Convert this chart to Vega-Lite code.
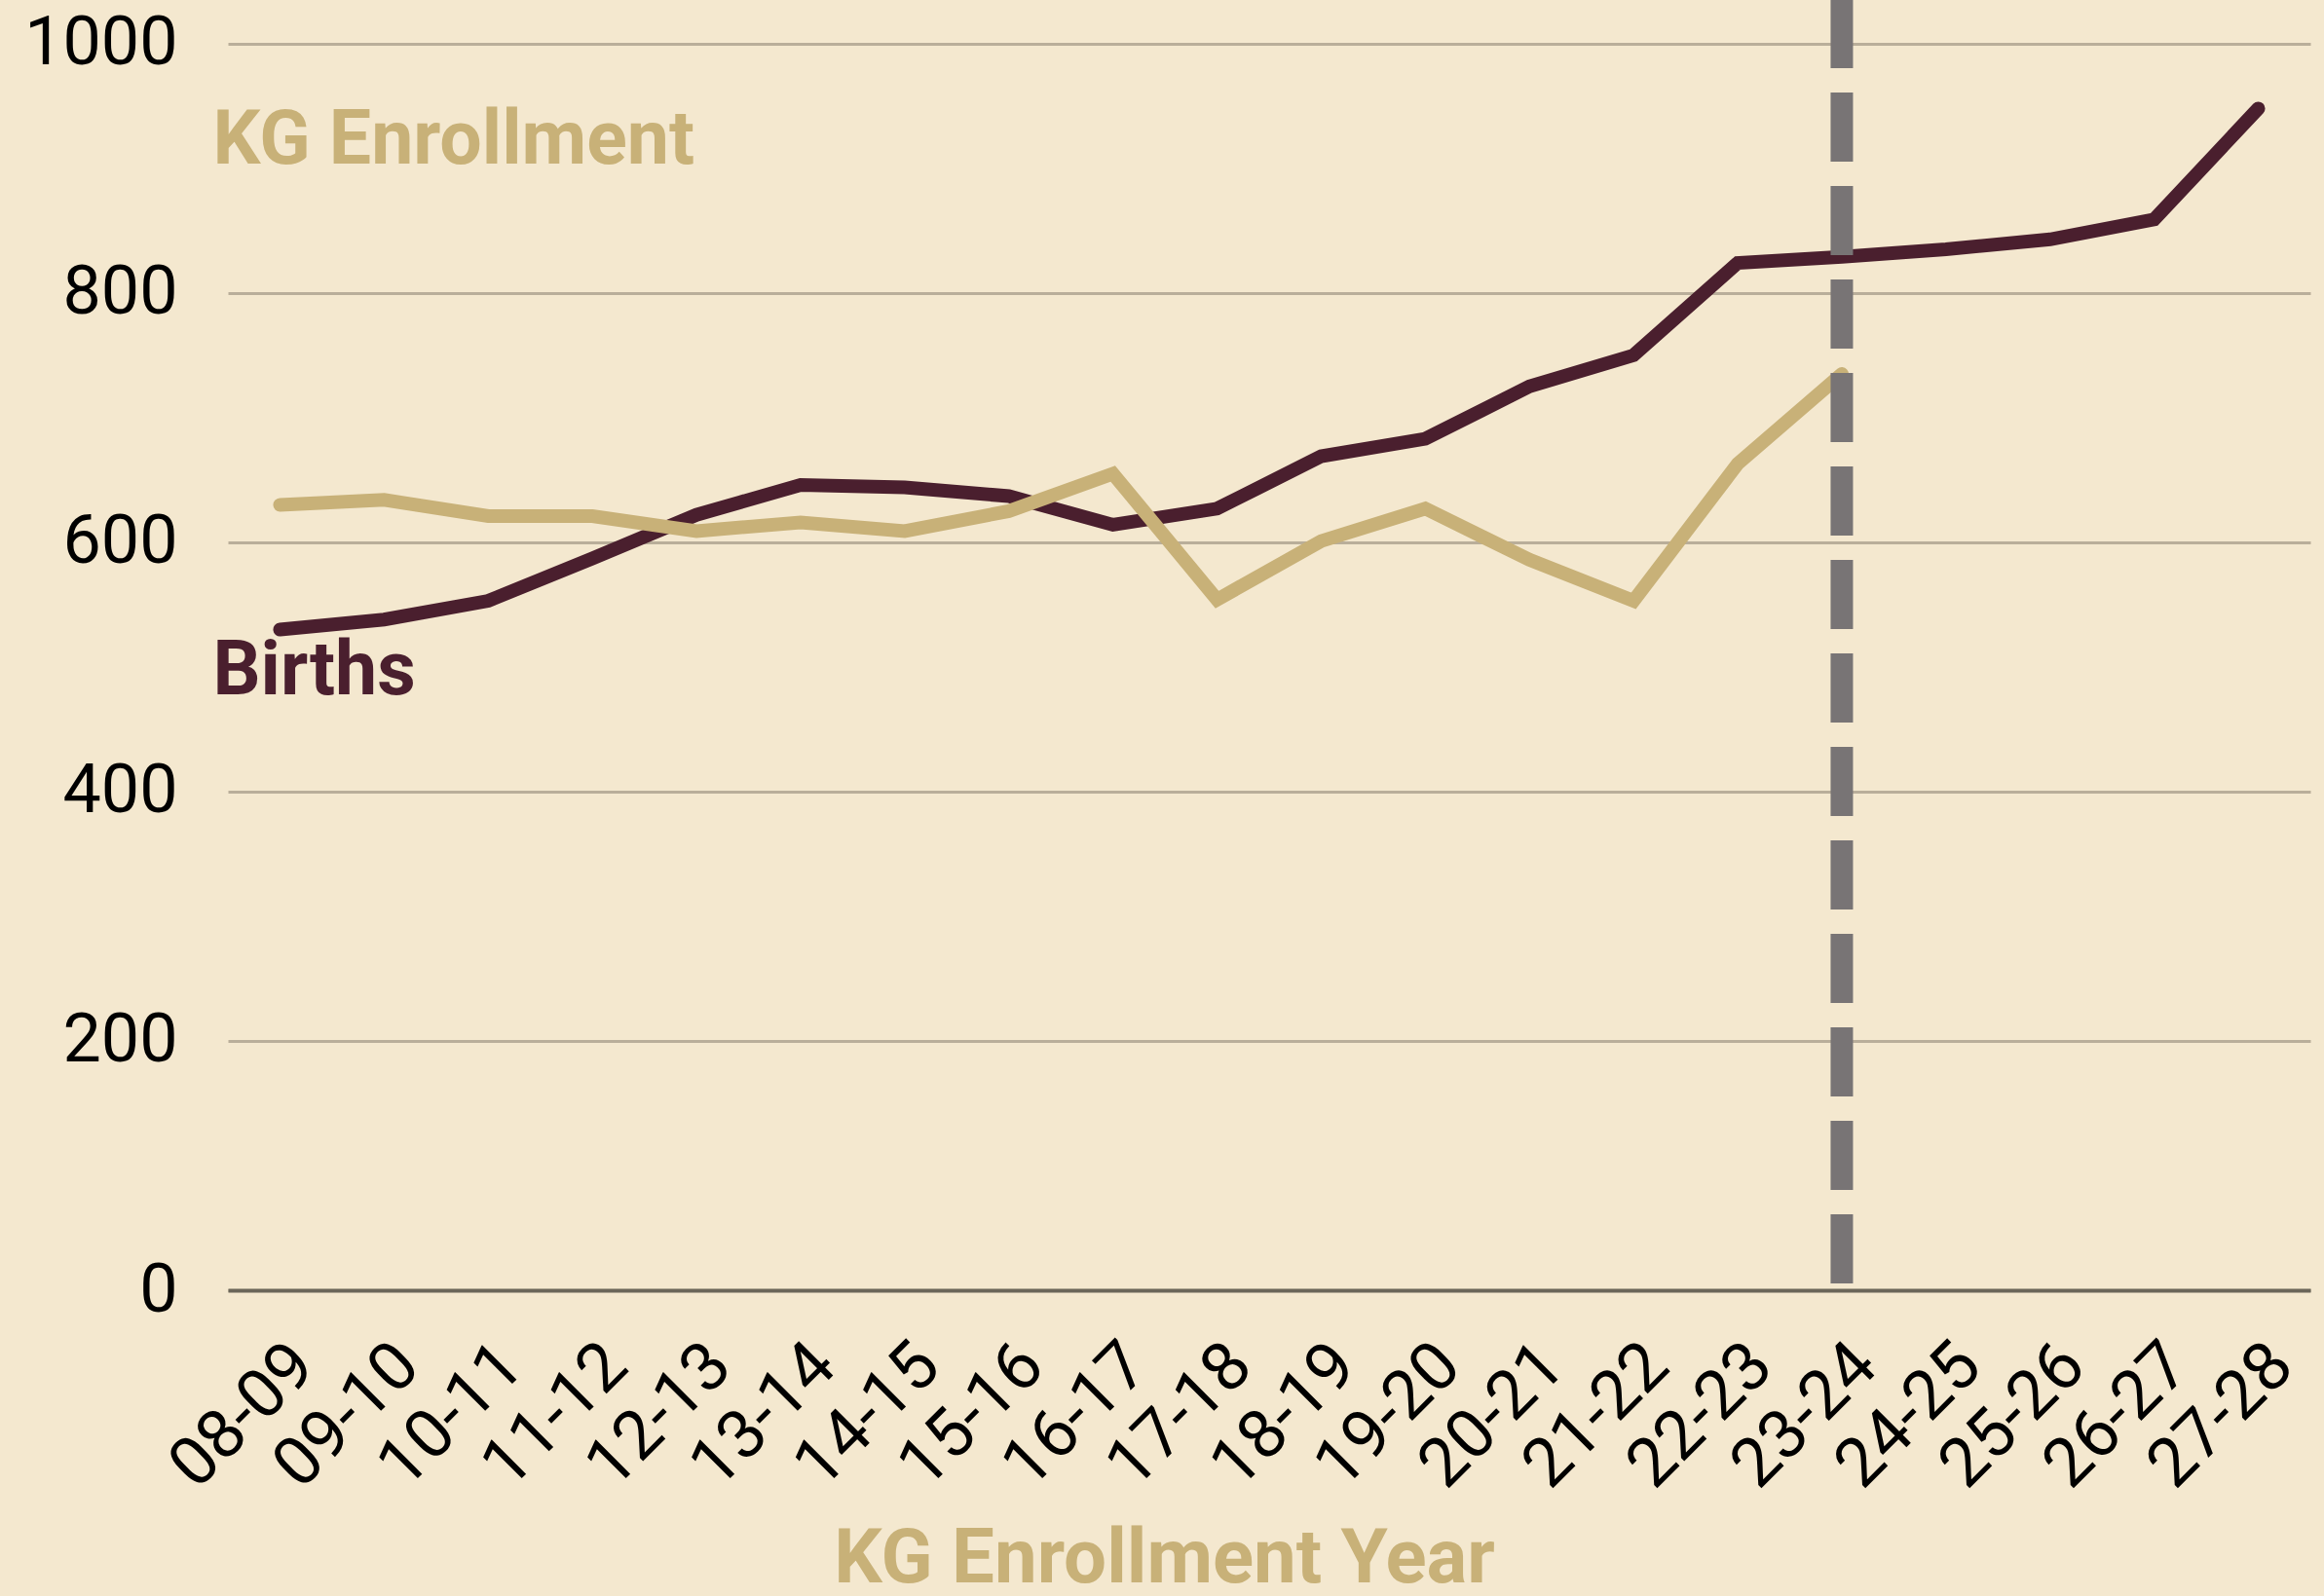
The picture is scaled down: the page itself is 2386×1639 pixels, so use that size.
{
  "$schema": "https://vega.github.io/schema/vega-lite/v6.json",
  "width": 2138,
  "height": 1325,
  "autosize": {"type": "none"},
  "padding": {"left": 234, "top": 0, "right": 14, "bottom": 314},
  "background": "#f4e8cf",
  "config": {"view": {"stroke": null}, "font": "Roboto"},
  "datasets": {
    "series": [
      {"year": "08-09", "series": "Births", "value": 530},
      {"year": "09-10", "series": "Births", "value": 538},
      {"year": "10-11", "series": "Births", "value": 553},
      {"year": "11-12", "series": "Births", "value": 587},
      {"year": "12-13", "series": "Births", "value": 622},
      {"year": "13-14", "series": "Births", "value": 646},
      {"year": "14-15", "series": "Births", "value": 644},
      {"year": "15-16", "series": "Births", "value": 637},
      {"year": "16-17", "series": "Births", "value": 614},
      {"year": "17-18", "series": "Births", "value": 627},
      {"year": "18-19", "series": "Births", "value": 669},
      {"year": "19-20", "series": "Births", "value": 683},
      {"year": "20-21", "series": "Births", "value": 725},
      {"year": "21-22", "series": "Births", "value": 750},
      {"year": "22-23", "series": "Births", "value": 824},
      {"year": "23-24", "series": "Births", "value": 829},
      {"year": "24-25", "series": "Births", "value": 835},
      {"year": "25-26", "series": "Births", "value": 843},
      {"year": "26-27", "series": "Births", "value": 859},
      {"year": "27-28", "series": "Births", "value": 948},
      {"year": "08-09", "series": "KG Enrollment", "value": 630},
      {"year": "09-10", "series": "KG Enrollment", "value": 634},
      {"year": "10-11", "series": "KG Enrollment", "value": 621},
      {"year": "11-12", "series": "KG Enrollment", "value": 621},
      {"year": "12-13", "series": "KG Enrollment", "value": 609},
      {"year": "13-14", "series": "KG Enrollment", "value": 616},
      {"year": "14-15", "series": "KG Enrollment", "value": 609},
      {"year": "15-16", "series": "KG Enrollment", "value": 625},
      {"year": "16-17", "series": "KG Enrollment", "value": 655},
      {"year": "17-18", "series": "KG Enrollment", "value": 554},
      {"year": "18-19", "series": "KG Enrollment", "value": 601},
      {"year": "19-20", "series": "KG Enrollment", "value": 627},
      {"year": "20-21", "series": "KG Enrollment", "value": 586},
      {"year": "21-22", "series": "KG Enrollment", "value": 553},
      {"year": "22-23", "series": "KG Enrollment", "value": 663},
      {"year": "23-24", "series": "KG Enrollment", "value": 735}
    ],
    "marker": [{"year": "23-24", "lo": 5.5, "hi": 1035}],
    "labels": [
      {"year": "08-09", "series": "KG Enrollment", "label": "KG Enrollment", "value": 904},
      {"year": "08-09", "series": "Births", "label": "Births", "value": 478}
    ]
  },
  "layer": [
    {
      "data": {"name": "series"},
      "mark": {"type": "line", "strokeWidth": 14, "strokeCap": "round"},
      "encoding": {
        "x": {
          "field": "year", "type": "ordinal",
          "scale": {"type": "point", "padding": 0.5,
            "domain": ["08-09","09-10","10-11","11-12","12-13","13-14","14-15","15-16","16-17","17-18","18-19","19-20","20-21","21-22","22-23","23-24","24-25","25-26","26-27","27-28"]},
          "axis": {
            "title": "KG Enrollment Year",
            "titleFont": "Roboto", "titleFontWeight": "bold", "titleFontSize": 78,
            "titleColor": "#c8b178",
            "titleX": 961, "titleY": 299, "titleAlign": "center", "titleBaseline": "alphabetic",
            "titleAnchor": null,
            "labelAngle": -45, "labelFontSize": 70, "labelColor": "#000000", "labelFont": "Roboto",
            "labelPadding": 42, "labelDx": 4,
            "ticks": false, "tickSize": 0,
            "domain": true, "domainColor": "#6b6659", "domainWidth": 4,
            "grid": false, "zindex": 1
          }
        },
        "y": {
          "field": "value", "type": "quantitative",
          "scale": {"domain": [0, 1035], "nice": false, "zero": true},
          "axis": {
            "title": null, "values": [0, 200, 400, 600, 800, 1000], "format": "d",
            "labelFontSize": 70, "labelColor": "#000000", "labelFont": "Roboto",
            "labelPadding": 52, "ticks": false, "tickSize": 0, "domain": false,
            "grid": true, "gridColor": "#b9ae9a", "gridWidth": 3
          }
        },
        "color": {
          "field": "series", "type": "nominal",
          "scale": {"domain": ["Births", "KG Enrollment"], "range": ["#4a1f2e", "#c8b178"]},
          "legend": null
        }
      }
    },
    {
      "data": {"name": "marker"},
      "mark": {"type": "rule", "strokeWidth": 23, "strokeDash": [71, 25], "color": "#787475", "strokeCap": "butt"},
      "encoding": {
        "x": {"field": "year", "type": "ordinal"},
        "y": {"field": "lo", "type": "quantitative"},
        "y2": {"field": "hi"}
      }
    },
    {
      "data": {"name": "labels"},
      "mark": {"type": "text", "align": "left", "baseline": "alphabetic", "dx": -69, "fontSize": 77, "fontWeight": "bold", "font": "Roboto"},
      "encoding": {
        "x": {"field": "year", "type": "ordinal"},
        "y": {"field": "value", "type": "quantitative"},
        "text": {"field": "label"},
        "color": {"field": "series", "type": "nominal", "legend": null}
      }
    }
  ]
}
